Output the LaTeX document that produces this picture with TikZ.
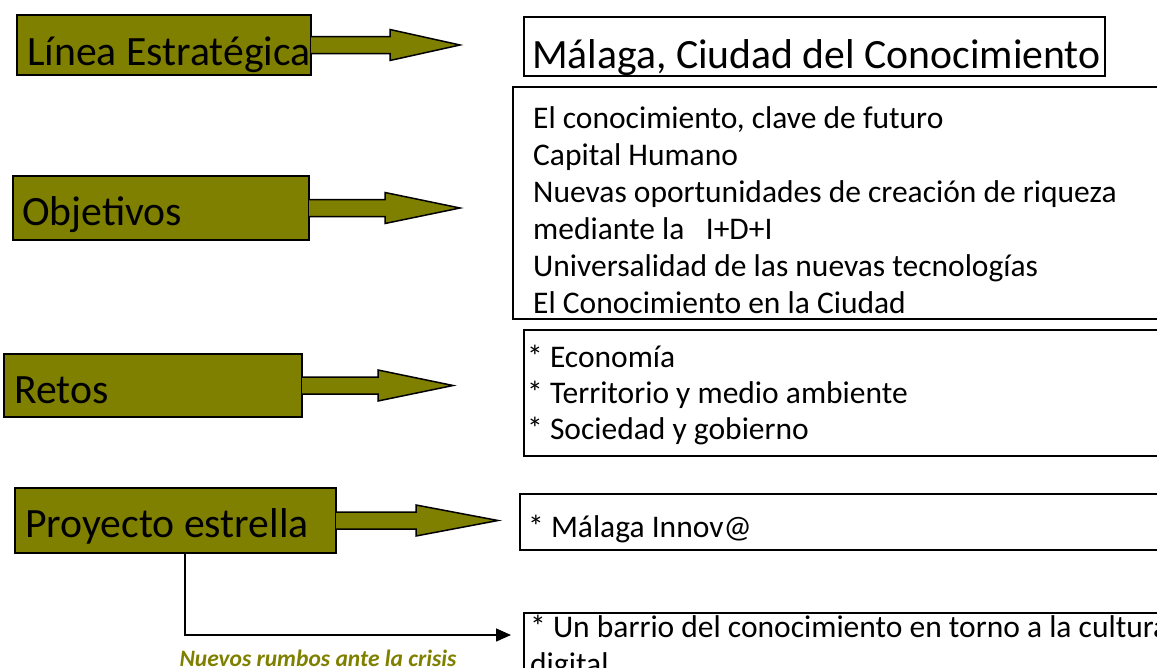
\documentclass[tikz,border=0pt]{standalone}
\usepackage{fontspec}
\setmainfont{Carlito}
\usetikzlibrary{arrows.meta}
\definecolor{olivebox}{RGB}{128,128,0}
\newcommand\myblockarrow[3]{%
  \filldraw[blockarrow] (#1) ++(0,-8.5) -- ++(#2,0) -- ++(0,-7) -- ++(#3,15.5) -- ++(-#3,15.5) -- ++(0,-7) -- ++(-#2,0);}
\begin{document}
\begin{tikzpicture}[x=1pt,y=-1pt,
  leftbox/.style={draw=black, fill=olivebox, line width=1.5pt, rectangle, inner sep=0pt, outer sep=0pt, anchor=north west},
  rightbox/.style={draw=black, line width=1.4pt, rectangle, inner sep=0pt, outer sep=0pt, anchor=north west},
  bigtext/.style={font=\fontsize{41.7}{50}\selectfont, inner sep=0pt, anchor=base west},
  smalltext/.style={font=\fontsize{31.5}{37}\selectfont, inner sep=0pt, anchor=base west},
  blockarrow/.style={fill=olivebox, draw=black, line width=1.5pt, line join=miter},
  conn/.style={draw=black, line width=1.5pt, -{Triangle[length=15pt,width=13pt]}},
  lbl/.style={font=\fontsize{23.5}{28}\selectfont\bfseries\itshape, text=olivebox, inner sep=0pt, anchor=base}]
\useasboundingbox (0,0) rectangle (1157,667);
\clip (0,0) rectangle (1157,667);

% left boxes
\node[leftbox, minimum width=294pt, minimum height=60pt] (b1) at (17,15) {};
\node[leftbox, minimum width=296pt, minimum height=64pt] (b2) at (13,176) {};
\node[leftbox, minimum width=298pt, minimum height=63pt] (b3) at (4,354) {};
\node[leftbox, minimum width=321pt, minimum height=65pt] (b4) at (15,488) {};

% block arrows
\myblockarrow{b1.east}{79}{70}
\myblockarrow{b2.east}{76}{75}
\myblockarrow{b3.east}{76}{75}
\myblockarrow{b4.east}{80}{82}

% left texts
\node[bigtext] (t1) at (27,65) {Línea Estratégica};
\node[bigtext] (t2) at (22,225) {Objetivos};
\node[bigtext] (t3) at (14,403) {Retos};
\node[bigtext] (t4) at (25,537) {Proyecto estrella};

% right boxes
\node[rightbox, minimum width=581pt, minimum height=59pt] (bA) at (524,17) {};
\node[bigtext] (tA) at (532,68) {Málaga, Ciudad del Conocimiento};

\node[rightbox, minimum width=700pt, minimum height=232pt] (bB) at (513,87) {};
\node[smalltext] (o1) at (533,128) {El conocimiento, clave de futuro};
\node[smalltext] (o2) at (533,165) {Capital Humano};
\node[smalltext] (o3) at (533,202) {Nuevas oportunidades de creación de riqueza};
\node[smalltext] (o4) at (533,239) {mediante la~~~I+D+I};
\node[smalltext] (o5) at (533,276) {Universalidad de las nuevas tecnologías};
\node[smalltext] (o6) at (533,313) {El Conocimiento en la Ciudad};

\node[rightbox, minimum width=700pt, minimum height=126pt] (bC) at (524,330) {};
\node[smalltext] (r1) at (527,367) {* Economía};
\node[smalltext] (r2) at (527,403) {* Territorio y medio ambiente};
\node[smalltext] (r3) at (527,439) {* Sociedad y gobierno};

\node[rightbox, minimum width=700pt, minimum height=56pt] (bD) at (520,494) {};
\node[smalltext] (p1) at (528,537) {* Málaga Innov@};

\node[rightbox, minimum width=700pt, minimum height=100pt] (bE) at (524,613) {};
\node[smalltext] (e1) at (530,637) {* Un barrio del conocimiento en torno a la cultura};
\node[smalltext] (e2) at (530,674) {digital};

% connector
\coordinate (bend) at (185,635);
\draw[conn] ([xshift=170pt]b4.south west) -- (bend) -- ([xshift=-13pt]bend -| bE.west);
\node[lbl] (nr) at (318,666) {Nuevos rumbos ante la crisis};
\end{tikzpicture}
\end{document}
